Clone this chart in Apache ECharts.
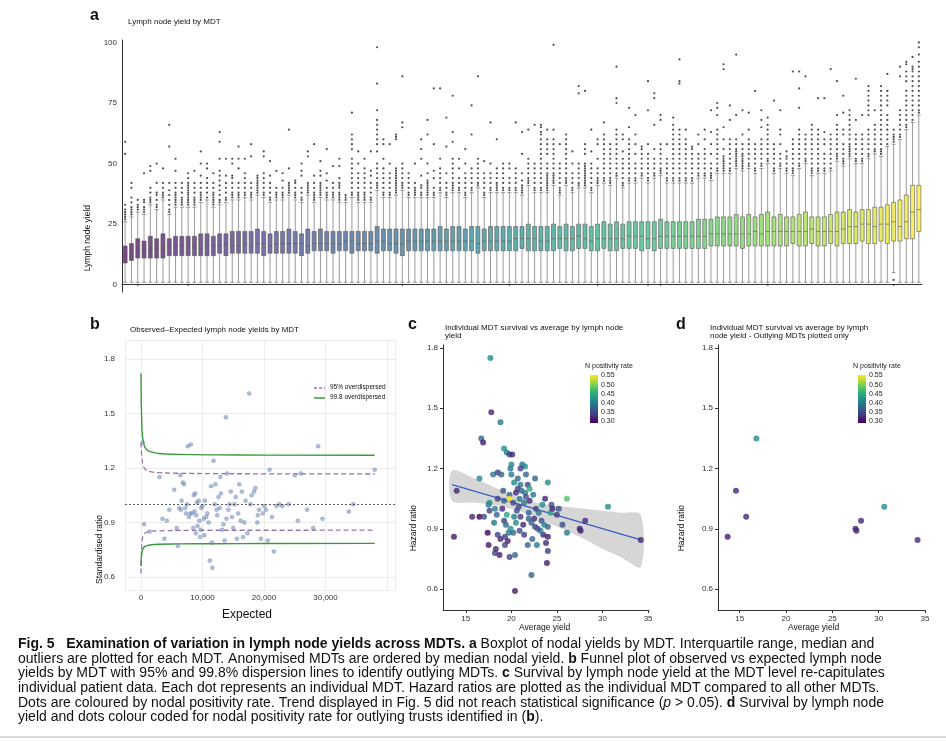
<!DOCTYPE html>
<html>
<head>
<meta charset="utf-8">
<script src="https://cdn.jsdelivr.net/npm/echarts@6/dist/echarts.min.js"></script>
<style>
  html, body { margin: 0; padding: 0; background: #fff; }
  #chart { width: 946px; height: 742px; }
</style>
</head>
<body>
<div id="chart"></div>
<script>
// ---- panel a : boxplot per MDT (ordered by median) ----
const boxLow = [1,1,1,1,1,1,1,1,1,1, 1,1,1,1,1,1,1,1,1,1, 1,1,1,1,1,1,1,1,1,1, 1,1,1,1,1,1,1,1,1,1,
  1,1,1,1,1,1,1,1,1,1, 1,1,1,1,1,1,1,1,1,1, 1,1,1,1,1,1,1,1,1,1, 1,1,1,1,1,1,1,1,1,1,
  1,1,1,1,1,1,1,1,1,1, 1,1,1,1,1,1,1,1,1,1, 1,1,1,1,1,1,1,1,1,1, 1,1,1,1,1,1,1,1,1,1, 1,1,5,1,1,1,1];
const boxQ1 = [9,10,11,11,11,11,11,12,12,12, 12,12,12,12,12,13,12,13,13,13, 13,13,12,13,13,13,13,13,12,13,
  14,14,14,13,14,14,13,14,14,14, 13,14,14,13,12,14,14,14,14,14, 14,14,14,14,14,14,13,14,14,14,
  14,14,14,15,14,14,14,14,14,15, 14,14,15,15,14,14,15,14,14,15, 15,15,14,15,14,15,15,15,15,15,
  15,15,15,16,16,16,16,16,15,16, 16,16,16,16,16,16,17,16,16,17, 16,16,17,16,17,17,17,18,17,17, 18,17,18,18,19,19,22];
const boxMed = [12,13,15,15,15,15,15,16,16,16, 16,16,15,16,16,16,17,16,16,17, 16,17,17,16,17,17,17,17,17,16,
  17,17,17,17,17,18,18,17,17,17, 18,18,17,17,17,18,18,18,18,18, 18,18,18,18,18,18,17,18,18,18,
  18,18,19,19,19,19,18,18,19,19, 19,19,20,19,18,19,19,19,19,19, 20,20,20,19,19,20,20,20,20,20,
  20,20,20,21,21,21,21,21,21,21, 22,21,22,22,22,22,22,22,22,23, 22,22,22,22,23,24,24,25,25,24, 25,25,26,24,26,30,31];
const boxQ3 = [16,17,19,18,20,19,21,19,20,20, 20,20,21,21,20,21,21,22,22,22, 22,23,22,21,22,22,23,22,21,23,
  22,23,22,22,22,22,22,22,22,22, 24,23,23,23,23,23,23,23,23,23, 24,23,24,24,23,24,24,23,24,24,
  24,24,24,24,25,24,24,24,25,24, 25,24,25,25,24,25,26,25,26,25, 26,26,26,26,26,27,26,26,26,26,
  26,27,27,27,28,28,28,29,28,29, 28,29,30,28,29,28,28,29,30,28, 28,28,29,30,30,31,30,31,31,32, 32,33,34,35,37,41,41];
const boxHigh = [26,28,30,29,33,31,35,29,32,32, 32,32,34,35,32,33,34,35,35,36, 35,37,36,34,35,35,37,35,34,37,
  34,36,35,35,34,34,36,34,34,34, 39,36,36,37,39,36,36,36,36,36, 38,36,38,38,36,38,40,36,38,38,
  38,38,38,37,41,38,38,38,41,37, 41,38,40,40,38,41,42,41,44,40, 42,42,44,42,44,45,42,42,42,42,
  42,44,44,43,46,46,46,48,47,48, 46,48,50,46,48,46,45,48,50,45, 46,46,47,51,49,52,50,50,52,54, 53,57,58,60,64,67,70];
const boxOutliers = [
  "27 28 29 30 31 33 54 59","29 30 31 32 34 36 40 42","31 32 33 35 0","30 31 32 34 35 46","34 35 36 38 40 47 49",
  "32 33 35 37 38 42 50","36 37 38 40 42 48","30 31 33 35 37 39 42 66 57","33 34 35 36 37 38 40 42 47 52","33 34 35 36 38 40 42",
  "33 34 35 36 37 38 39 40 41 42 44 46 0","33 34 35 36 38 40 42 47","35 36 37 38 40 42 45 50 55","36 38 40 42 44 48 50","33 34 35 36 37 38 40 42 46",
  "34 35 37 39 41 43 45 47 52 59 63","35 36 38 40 42 45 52","36 37 38 40 42 44 45 50 52","36 37 38 40 42 48 52 57","37 38 40 42 44 46 52",
  "36 37 38 40 42 53 58","38 39 40 41 42 43 44 45","37 38 40 42 44 46 55 53","35 36 38 40 42 45 51","36 37 38 40 47",
  "36 37 38 40 43 46","38 39 40 41 42 48 64","36 37 38 40 42 43","35 36 38 40 45 47 50","38 39 40 41 42 53 55",
  "35 36 37 38 40 42 45 58","37 38 39 40 41 42 45 47 51","36 37 38 40 43 46 56","36 37 38 40 42 49","35 36 37 38 40 41 42 44 49 52",
  "35 36 37","37 38 40 42 44 46 48 50 52 56 58 60 62 71","35 36 37 38 40 42 44 46 50 55","35 36 37 38 40 42 44 46 48 52","35 36 38 40 42 45 47 55",
  "40 41 42 44 46 48 50 55 58 60 62 64 66 68 72 83 98","37 38 40 42 44 46 48 52 58 60","37 38 40 42 44 46 50 58","38 39 40 41 42 43 44 45 46 47 48 60 61 62","40 41 42 44 46 48 50 67 65 86 0",
  "37 38 40 42 44 46","37 38 39 40 42 50","37 38 40 41 45 52 56 60","37 38 39 40 41 42 43 46 50 62 68","37 38 40 44 47 58 81",
  "39 40 42 44 46 48 52 81","37 38 40 42 46 57 69","39 40 41 42 44 46 48 50 52 59 63 78","39 40 42 44 48 52","37 38 40 42 44 46 50 56",
  "39 40 42 44 46 48 62 74","41 42 44 46 48 50 52 86","37 38 40 42 44 46 51","39 40 42 44 46 50 67","39 40 41 42 44 46 48 60",
  "39 40 42 44 46 48 50","39 40 42 44 48 50 0","39 40 42 44 46 48 67","38 39 40 41 43 46 54 63","42 43 44 46 48 50 52 64",
  "39 40 42 44 46 48 50 66","39 40 42 44 46 48 50 52 54 56 58 60 62 63 65 66","39 40 41 42 43 44 45 46 48 50 54 56 58 60 64","42 43 44 45 46 48 50 52 54 56 58 60 64 99","38 39 40 42 44 46 48 50 58",
  "42 43 44 46 48 50 52 54 56 58 60 62","39 40 42 44 46 50 55","41 42 44 46 48 50 82 79","41 42 43 44 45 46 47 48 49 50 54 56 58 80","39 40 42 44 46 48 50 55 64",
  "42 43 44 46 48 52 58 60 0","43 44 46 48 50 52 54 56 58 60 62 67","42 43 44 46 48 50 52 54 56 58","45 46 48 50 52 54 56 58 60 62 64 77 75 90","41 42 44 46 48 50 52 55 60 62",
  "43 44 46 48 50 52 54 56 58 60 65 73","43 44 46 48 50 54 58 62 70","45 46 48 50 52 54 56 57","43 44 46 48 50 52 54 58 84 72 0","45 46 48 50 52 56 77 79 66",
  "46 47 48 50 52 54 56 58 70 68 0","43 44 46 48 50 52 58","43 44 46 48 50 52 54 56 58 60 62 64 66 69","43 44 46 48 50 52 54 56 58 60 62 64 84 83 93","43 44 46 48 50 52 54 56 58 60 64",
  "43 44 46 48 50 52 54 56 57","45 46 48 50 52 54 58 62","45 46 48 50 52 54 56 60 64","44 45 46 48 50 54 58 63 72","47 48 50 52 54 56 58 60 62 64 70 73 75",
  "47 48 49 50 51 52 53 56 60 65 91 89","47 48 50 52 54 56 58 60 74 68","49 50 51 52 53 54 55 56 58 60 70 95","48 49 50 51 52 53 54 56 58 62 72","49 50 52 54 56 58 60 64 71",
  "47 48 50 52 54 56 58 80","49 50 52 54 56 58 60 65 68 72","51 52 54 56 58 60 62 64 69 66 0","47 48 50 52 54 56 58 76","49 50 52 54 58 62 64 72",
  "47 48 50 52 53 55","46 47 48 50 52 54 56 58 60 88","49 50 52 54 56 58 60 62 64 73 81 88","51 52 54 56 58 60 62 86","46 47 48 50 52 54 56 58 60 62 64 66",
  "47 48 50 52 54 56 58 60 62 64 77","47 48 50 52 54 58 60 63 77","48 50 52 54 56 58 60 62 89","52 53 54 56 58 60 62 64 66 70 84","50 51 52 54 56 58 62 64 78 71",
  "53 54 55 56 57 58 60 62 64 66 68 70 72","51 52 54 56 58 60 62 68 85","51 52 54 56 58 60 62 70","53 54 56 58 60 62 64 70 72 74 76 78 80 82","55 56 58 60 62 64 66 72",
  "54 55 56 58 60 62 64 66 68 70 72 74 76 78 80 82","58 60 62 64 66 68 70 74 76 78 80 87","59 60 61 62 64 0 2","61 62 64 66 68 70 72 90 86","65 66 68 70 72 74 76 78 80 84 86 88 91 92",
  "68 70 72 74 76 78 80 82 84 86 88 89 90 94","71 72 74 76 78 80 82 84 86 88 90 92 95 98 100"
];
const boxTicks = [0, 25, 50, 75, 100];

// ---- panel b : funnel plot ----
const funnelPoints = [[300,1.34],[500,0.89],[1400,0.85],[3000,1.15],[3500,0.92],[3800,0.81],[4200,0.91],[5800,0.87],[6000,0.77],[6500,0.97],
  [6800,1.12],[7000,1.11],[7200,0.98],[7500,1.0],[7600,1.32],[7800,0.93],[8000,0.95],[8100,1.33],[8300,0.95],[8500,0.87],
  [8600,1.05],[8700,0.96],[8800,1.06],[9000,0.94],[9100,1.01],[9200,0.88],[9400,1.02],[9500,0.91],[9600,0.82],[9700,0.86],
  [9800,0.98],[10000,0.99],[10200,0.92],[10400,1.02],[10600,0.93],[10800,0.95],[11000,0.9],[11200,0.69],[11400,1.1],[11600,0.65],
  [11800,1.24],[12000,1.0],[12100,1.11],[12300,0.97],[12400,0.94],[12600,1.04],[12800,0.98],[13000,1.06],[13200,0.86],[13400,0.89],
  [13600,0.8],[13800,1.48],[13900,0.92],[14000,1.17],[14200,0.97],[14400,1.0],[14600,1.07],[14800,0.93],[15000,0.87],[15200,1.0],
  [15400,1.04],[15600,0.81],[15800,0.95],[16000,1.11],[16200,0.91],[16400,1.07],[16800,0.9],[17000,1.02],[17300,0.84],[17600,1.61],
  [17800,1.0],[18000,1.05],[18400,1.07],[18600,1.09],[18900,0.9],[19200,0.97],[19500,0.81],[19800,0.95],[20000,0.99],[20300,0.97],
  [20600,0.8],[20900,1.19],[21300,0.93],[21600,0.74],[22000,0.99],[22500,1.0],[23000,0.99],[24000,1.0],[25000,1.16],[25500,0.91],
  [26000,1.17],[27000,0.97],[28000,0.87],[28800,1.32],[29500,0.92],[33800,0.96],[34500,1.0],[38000,1.19],[4600,0.97],[5400,1.08],
  [6200,0.98],[6600,1.02],[7300,0.95],[8900,0.84],[10300,0.83],[11500,0.79],[12900,1.15],[16600,0.82],[19000,0.94],[6400,1.16]];
const funnelX = [0, 150, 400, 800, 1500, 3000, 6000, 12000, 20000, 38000];
const upper95 = [1.34, 1.26, 1.21, 1.19, 1.18, 1.174, 1.171, 1.169, 1.168, 1.167];
const lower95 = [0.62, 0.79, 0.83, 0.845, 0.851, 0.854, 0.856, 0.857, 0.857, 0.858];
const upper998 = [1.72, 1.42, 1.34, 1.305, 1.29, 1.28, 1.275, 1.272, 1.271, 1.27];
const lower998 = [0.66, 0.735, 0.76, 0.77, 0.776, 0.78, 0.782, 0.783, 0.784, 0.785];
const funnelXTicks = [0, 10000, 20000, 30000];
const ratioTicks = [0.6, 0.9, 1.2, 1.5, 1.8];

// ---- panel c : hazard ratio vs average yield [yield, HR, N positivity rate] ----
const survivalPoints = [[17.7,1.75,.42],[17.8,1.48,.33],[18.8,1.43,.40],[16.7,1.35,.38],[16.9,1.33,.32],[19.2,1.30,.42],[19.5,1.28,.40],[19.8,1.27,.35],
  [20.1,1.27,.33],[21.2,1.22,.40],[21.5,1.21,.42],[20.0,1.22,.42],[19.9,1.20,.40],[21.0,1.20,.35],[18.0,1.17,.40],[18.5,1.18,.35],
  [16.5,1.15,.42],[18.9,1.17,.38],[22.6,1.15,.38],[24.0,1.13,.42],[21.0,1.12,.40],[20.7,1.10,.35],[21.1,1.09,.38],[21.5,1.08,.40],
  [20.5,1.08,.33],[19.8,1.07,.38],[22.4,1.07,.40],[23.7,1.05,.33],[26.1,1.05,.48],[18.5,1.05,.35],[19.8,1.05,.55],[17.5,1.02,.40],
  [17.6,1.03,.42],[19.2,1.04,.38],[20.2,1.03,.36],[21.4,1.03,.40],[22.0,1.04,.33],[20.8,1.01,.35],[24.4,1.02,.37],[25.2,1.00,.36],
  [30.6,1.01,.42],[14.0,1.09,.33],[15.7,0.96,.33],[16.5,0.96,.30],[17.6,0.99,.35],[18.4,0.97,.38],[19.5,0.97,.45],[20.3,0.96,.40],
  [19.2,0.94,.35],[21.9,0.95,.37],[22.5,0.95,.33],[23.3,0.94,.36],[24.3,0.98,.45],[20.5,0.93,.42],[19.4,0.92,.38],[21.3,0.92,.33],
  [22.6,0.91,.35],[23.6,0.92,.40],[24.0,0.91,.38],[25.6,0.92,.36],[28.1,0.94,.33],[27.5,0.90,.32],[27.6,0.89,.33],[26.1,0.88,.40],
  [17.4,0.88,.30],[18.5,0.87,.35],[19.7,0.88,.40],[20.2,0.88,.38],[20.9,0.89,.36],[23.5,0.87,.33],[24.0,0.86,.32],[19.3,0.86,.35],
  [18.8,0.85,.33],[17.5,0.82,.32],[18.3,0.80,.33],[19.3,0.82,.35],[21.8,0.82,.38],[22.8,0.82,.40],[23.8,0.83,.33],[24.0,0.79,.35],
  [22.3,0.85,.38],[18.2,0.78,.35],[18.7,0.77,.32],[19.8,0.76,.35],[20.4,0.77,.38],[23.9,0.73,.32],[22.2,0.67,.38],[20.4,0.59,.32],
  [13.7,0.86,.32],[34.2,0.845,.33],[20.7,1.15,.38],[21.8,1.12,.35],[20.3,1.13,.42],[22.7,1.00,.35],[21.9,0.98,.38],[23.0,0.98,.40],
  [19.0,1.00,.33],[18.2,1.00,.40],[20.9,1.05,.40],[21.6,1.06,.36],[22.0,1.10,.45],[19.1,1.09,.37],[23.4,1.02,.42],[20.6,0.99,.36],
  [21.0,0.96,.34],[22.2,0.93,.38],[19.9,0.90,.42],[18.1,0.93,.40],[17.0,0.96,.36],[24.5,1.00,.33],[25.0,0.97,.35],[23.2,0.89,.40],
  [22.9,0.90,.36],[21.4,0.87,.34],[19.6,0.84,.33],[21.6,1.17,.38],[20.0,1.17,.40]];
const trendX = [13.5, 34.2];
const trendY = [1.12, 0.845];
const bandX = [13.5, 16, 18, 20, 22, 24, 26, 28, 30, 32, 34.2];
const bandLo = [1.04, 1.03, 1.02, 1.00, 0.97, 0.93, 0.89, 0.85, 0.80, 0.76, 0.71];
const bandHi = [1.19, 1.15, 1.11, 1.07, 1.04, 1.02, 1.01, 1.00, 0.99, 0.98, 0.97];
const yieldTicks = [15, 20, 25, 30, 35];

// ---- panel d : outlying MDTs only ----
const outlyingPoints = [[13.7,0.86,.32],[14.6,1.09,.33],[15.7,0.96,.33],[16.8,1.35,.42],[27.5,0.90,.32],
  [27.6,0.89,.33],[28.1,0.94,.33],[30.6,1.01,.42],[34.2,0.845,.33]];
const rateLabels = ['0.55', '0.50', '0.45', '0.40', '0.35', '0.30'];

const VIRIDIS = ['#440154', '#443983', '#31688e', '#21918c', '#35b779', '#90d743', '#fde725'];
const FONT = 'Liberation Sans';

function viridisAt(t) {
  const p = t * (VIRIDIS.length - 1);
  const i = Math.min(Math.floor(p), VIRIDIS.length - 2);
  const f = p - i;
  const a = VIRIDIS[i], b = VIRIDIS[i + 1];
  const c = k => Math.round(parseInt(a.substr(k, 2), 16) * (1 - f) + parseInt(b.substr(k, 2), 16) * f);
  return `rgba(${c(1)},${c(3)},${c(5)},0.72)`;
}

const n = boxMed.length;
const categories = boxMed.map((_, i) => 'MDT' + (i + 1));
const boxData = boxMed.map((m, i) => ({
  value: [boxLow[i], boxQ1[i], m, boxQ3[i], boxHigh[i]],
  itemStyle: { color: viridisAt(i / (n - 1)) }
}));
const outlierData = [];
boxOutliers.forEach((s, i) => {
  s.split(' ').filter(Boolean).forEach(v => outlierData.push([i, +v]));
});

const tickLabel = { fontFamily: FONT, fontSize: 8, color: '#333' };

function valueAxis(grid, min, max, ticks, opts) {
  return Object.assign({
    type: 'value', gridIndex: grid, min: min, max: max,
    axisLabel: Object.assign({ customValues: ticks, margin: 5 }, tickLabel),
    axisTick: { customValues: ticks, length: 3, lineStyle: { color: '#333' } },
    axisLine: { show: true, lineStyle: { color: '#333', width: 1 } },
    splitLine: { show: false }
  }, opts || {});
}

function colorBar(x, y) {
  const items = [
    { type: 'text', left: x - 5, top: y - 12, style: { text: 'N positivity rate', font: `7px ${FONT}`, fill: '#222' } },
    { type: 'rect', shape: { x: x, y: y, width: 8, height: 48 },
      style: { fill: new echarts.graphic.LinearGradient(0, 0, 0, 1, VIRIDIS.slice().reverse().map((c, i) => ({ offset: i / 6, color: c }))) } }
  ];
  rateLabels.forEach((t, i) => items.push({
    type: 'text', left: x + 11, top: y + i * 9.2 - 3, style: { text: t, font: `7px ${FONT}`, fill: '#222' }
  }));
  return items;
}

function label(x, y, text, size, weight, rot) {
  return { type: 'text', left: x, top: y, rotation: rot || 0,
    style: { text: text, font: `${weight || 'normal'} ${size}px ${FONT}`, fill: '#111' } };
}

// confidence band drawn as one polygon through the axis scales
function renderBand(params, api) {
  const pts = bandX.map((x, i) => api.coord([x, bandHi[i]]));
  for (let i = bandX.length - 1; i >= 0; i--) pts.push(api.coord([bandX[i], bandLo[i]]));
  return { type: 'polygon', shape: { points: pts, smooth: 0.3 }, style: { fill: '#d6d6d6' } };
}

const captionLines = [
  '{b|Fig. 5}   {b|Examination of variation in lymph node yields across MDTs.} {b|a} Boxplot of nodal yields by MDT. Interquartile range, median and',
  'outliers are plotted for each MDT. Anonymised MDTs are ordered by median nodal yield. {b|b} Funnel plot of observed vs expected lymph node',
  'yields by MDT with 95% and 99.8% dispersion lines to identify outlying MDTs. {b|c} Survival by lymph node yield at the MDT level re-capitulates',
  'individual patient data. Each dot represents an individual MDT. Hazard ratios are plotted as the individual MDT compared to all other MDTs.',
  'Dots are coloured by nodal positivity rate. Trend displayed in Fig. 5 did not reach statistical significance ({i|p} > 0.05). {b|d} Survival by lymph node',
  'yield and dots colour coded for nodal positivity rate for outlying trusts identified in ({b|b}).'
];

const graphics = [
  label(90, 8, 'a', 16, 'bold'), label(90, 317, 'b', 16, 'bold'), label(408, 317, 'c', 16, 'bold'), label(676, 317, 'd', 16, 'bold'),
  label(128, 18, 'Lymph node yield by MDT', 8),
  label(130, 326, 'Observed\u2013Expected lymph node yields by MDT', 8),
  label(445, 324, 'Individual MDT survival vs average by lymph node\nyield', 8),
  label(710, 324, 'Individual MDT survival vs average by lymph\nnode yield - Outlying MDTs plotted only', 8),
  label(83, 205, 'Lymph node yield', 8.5, 'normal', Math.PI / 2),
  label(95, 515, 'Standardised ratio', 8.5, 'normal', Math.PI / 2),
  label(409, 505, 'Hazard ratio', 8.5, 'normal', Math.PI / 2),
  label(677, 505, 'Hazard ratio', 8.5, 'normal', Math.PI / 2),
  label(222, 609, 'Expected', 12),
  label(519, 623, 'Average yield', 8.5),
  label(788, 623, 'Average yield', 8.5),
  { type: 'line', shape: { x1: 314, y1: 388, x2: 326, y2: 388 }, style: { stroke: '#9a72b0', lineWidth: 1.5, lineDash: [3, 2] } },
  { type: 'line', shape: { x1: 314, y1: 398, x2: 326, y2: 398 }, style: { stroke: '#3a9a3a', lineWidth: 1.5 } },
  label(330, 384, '95% overdispersed', 6.5),
  label(330, 394, '99.8 overdispersed', 6.5),
  ...colorBar(590, 375),
  ...colorBar(858, 375),
  { type: 'text', left: 18, top: 637,
    style: { text: captionLines.join('\n'), font: `14px ${FONT}`, fill: '#111', lineHeight: 14.6,
      rich: { b: { fontWeight: 'bold', fontSize: 14, fontFamily: FONT, lineHeight: 14.6 },
              i: { fontStyle: 'italic', fontSize: 14, fontFamily: FONT, lineHeight: 14.6 } } } },
  { type: 'line', shape: { x1: 0, y1: 737, x2: 946, y2: 737 }, style: { stroke: '#bbb', lineWidth: 1 } }
];

const chart = echarts.init(document.getElementById('chart'), null, { renderer: 'canvas' });
chart.setOption({
  animation: false,
  backgroundColor: '#fff',
  grid: [
    { left: 122, right: 24, top: 40, height: 252 },
    { left: 125, width: 270, top: 340, height: 250 },
    { left: 443, width: 206, top: 345, height: 265 },
    { left: 718, width: 207, top: 345, height: 265 }
  ],
  xAxis: [
    { type: 'category', gridIndex: 0, data: categories, boundaryGap: true,
      axisLine: { lineStyle: { color: '#333' } },
      axisTick: { interval: 0, length: 2, lineStyle: { color: '#333' } },
      axisLabel: { show: false } },
    valueAxis(1, -2600, 41300, funnelXTicks, {
      axisLine: { show: false }, axisTick: { show: false },
      axisLabel: Object.assign({ customValues: funnelXTicks, margin: 4, formatter: v => v.toLocaleString('en-US') }, tickLabel),
      splitLine: { show: true, lineStyle: { color: '#ececec' } } }),
    valueAxis(2, 12.5, 35.1, yieldTicks),
    valueAxis(3, 12.66, 35, yieldTicks)
  ],
  yAxis: [
    valueAxis(0, -3, 101, boxTicks, { axisLine: { show: true, lineStyle: { color: '#333' } }, axisTick: { show: false } }),
    valueAxis(1, 0.528, 1.905, ratioTicks, {
      axisLine: { show: false }, axisTick: { show: false },
      axisLabel: Object.assign({ customValues: ratioTicks, margin: 10, formatter: v => v.toFixed(1) }, tickLabel),
      splitLine: { show: true, lineStyle: { color: '#ececec' } } }),
    valueAxis(2, 0.496, 1.815, ratioTicks, { axisLabel: Object.assign({ customValues: ratioTicks, margin: 5, formatter: v => v.toFixed(1) }, tickLabel) }),
    valueAxis(3, 0.496, 1.815, ratioTicks, { axisLabel: Object.assign({ customValues: ratioTicks, margin: 5, formatter: v => v.toFixed(1) }, tickLabel) })
  ],
  visualMap: [
    { show: false, type: 'continuous', seriesIndex: 8, dimension: 2, min: 0.3, max: 0.55, inRange: { color: VIRIDIS } },
    { show: false, type: 'continuous', seriesIndex: 9, dimension: 2, min: 0.3, max: 0.55, inRange: { color: VIRIDIS } }
  ],
  graphic: graphics,
  series: [
    { type: 'boxplot', xAxisIndex: 0, yAxisIndex: 0, data: boxData, boxWidth: [4, 7],
      itemStyle: { borderColor: '#555', borderWidth: 0.6 } },
    { type: 'scatter', xAxisIndex: 0, yAxisIndex: 0, data: outlierData, symbolSize: 2.2,
      itemStyle: { color: '#222' } },
    { type: 'line', xAxisIndex: 1, yAxisIndex: 1, data: funnelX.map((x, i) => [x, upper95[i]]), showSymbol: false, smooth: true,
      lineStyle: { color: '#9a72b0', width: 1.3, type: [5, 3] }, z: 3 },
    { type: 'line', xAxisIndex: 1, yAxisIndex: 1, data: funnelX.map((x, i) => [x, lower95[i]]), showSymbol: false, smooth: true,
      lineStyle: { color: '#9a72b0', width: 1.3, type: [5, 3] }, z: 3 },
    { type: 'line', xAxisIndex: 1, yAxisIndex: 1, data: funnelX.map((x, i) => [x, upper998[i]]), showSymbol: false, smooth: true,
      lineStyle: { color: '#3a9a3a', width: 1.4 }, z: 3,
      markLine: { silent: true, symbol: 'none', label: { show: false },
        lineStyle: { color: '#333', type: [2, 2], width: 0.8 }, data: [{ yAxis: 1 }] } },
    { type: 'line', xAxisIndex: 1, yAxisIndex: 1, data: funnelX.map((x, i) => [x, lower998[i]]), showSymbol: false, smooth: true,
      lineStyle: { color: '#3a9a3a', width: 1.4 }, z: 3 },
    { type: 'scatter', xAxisIndex: 1, yAxisIndex: 1, data: funnelPoints, symbolSize: 4,
      itemStyle: { color: 'rgba(120,150,200,0.75)', borderColor: 'rgba(70,90,130,0.6)', borderWidth: 0.5 }, z: 4 },
    { type: 'custom', xAxisIndex: 2, yAxisIndex: 2, data: [[bandX[0], bandLo[0]]], renderItem: renderBand, silent: true, z: 1 },
    { type: 'scatter', xAxisIndex: 2, yAxisIndex: 2, data: survivalPoints, symbolSize: 6, z: 4 },
    { type: 'scatter', xAxisIndex: 3, yAxisIndex: 3, data: outlyingPoints, symbolSize: 6, z: 4 },
    { type: 'line', xAxisIndex: 2, yAxisIndex: 2, data: trendX.map((x, i) => [x, trendY[i]]), showSymbol: false,
      lineStyle: { color: '#3b5fc0', width: 1.3 }, z: 3 }
  ]
});
</script>
</body>
</html>
